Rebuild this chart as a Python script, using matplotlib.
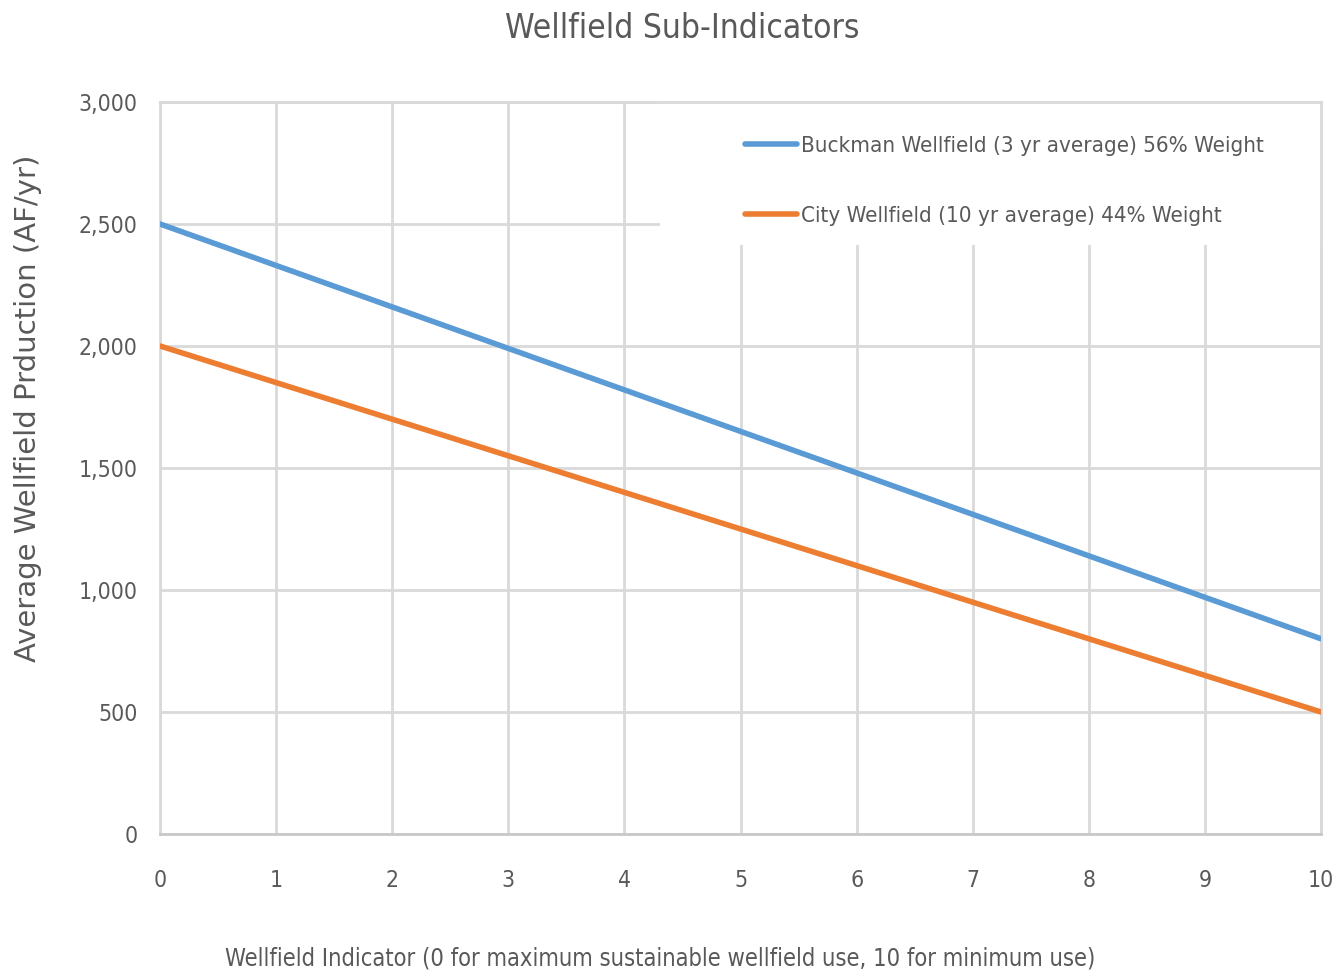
import matplotlib.pyplot as plt
from matplotlib.patches import Rectangle

# Wellfield sub-indicator curves
indicator = [0, 1, 2, 3, 4, 5, 6, 7, 8, 9, 10]
buckman = [2500, 2330, 2160, 1990, 1820, 1650, 1480, 1310, 1140, 970, 800]
city = [2000, 1850, 1700, 1550, 1400, 1250, 1100, 950, 800, 650, 500]
yticks = [0, 500, 1000, 1500, 2000, 2500, 3000]

text_col = '#595959'
grid_col = '#d9d9d9'

fig = plt.figure(figsize=(13.36, 9.76), dpi=100)
ax = fig.add_axes([0.1198, 0.1455, 0.869, 0.75])

ax.plot(indicator, buckman, color='#5b9bd5', lw=4, label='Buckman Wellfield (3 yr average) 56% Weight',
        solid_capstyle='round', zorder=3)
ax.plot(indicator, city, color='#ed7d31', lw=4, label='City Wellfield (10 yr average) 44% Weight',
        solid_capstyle='round', zorder=3)

ax.set_xlim(0, 10)
ax.set_ylim(0, 3000)
ax.set_xticks(indicator)
ax.set_yticks(yticks)
ax.set_yticklabels([f'{v:,}' for v in yticks])
ax.grid(True, color=grid_col, lw=2)
ax.set_axisbelow(True)
for s in ['top', 'right', 'left']:
    ax.spines[s].set_color(grid_col)
    ax.spines[s].set_linewidth(2)
ax.spines['bottom'].set_color('#c8c8c8')
ax.spines['bottom'].set_linewidth(2)
ax.tick_params(length=0, colors=text_col, labelsize=16.5)
ax.tick_params(axis='x', pad=25)
ax.tick_params(axis='y', pad=16)
for lab in ax.get_xticklabels() + ax.get_yticklabels():
    lab.set_fontstretch('condensed')

fig.text(0.511, 0.971, 'Wellfield Sub-Indicators', fontsize=24, color=text_col,
         ha='center', va='center', fontstretch='condensed')
fig.text(0.021, 0.582, 'Average Wellfield Prduction (AF/yr)', fontsize=21, color=text_col,
         ha='center', va='center', rotation=90)
fig.text(0.494, 0.018, 'Wellfield Indicator (0 for maximum sustainable wellfield use, 10 for minimum use)',
         fontsize=17, color=text_col, ha='center', va='center', fontstretch='condensed')

# white legend area hides the gridlines behind it
ax.add_patch(Rectangle((0.4307, 0.8046), 0.5693, 0.1954, transform=ax.transAxes,
                       facecolor='white', edgecolor='none', zorder=1))
leg = ax.legend(loc='upper left', bbox_to_anchor=(0.504, 0.954), frameon=False,
                prop={'family': 'DejaVu Sans', 'stretch': 'condensed', 'size': 16},
                labelspacing=2.25, handlelength=2.35, handletextpad=0.15, borderpad=0,
                borderaxespad=0)
for t in leg.get_texts():
    t.set_color(text_col)

fig.savefig('out.png', dpi=100)
